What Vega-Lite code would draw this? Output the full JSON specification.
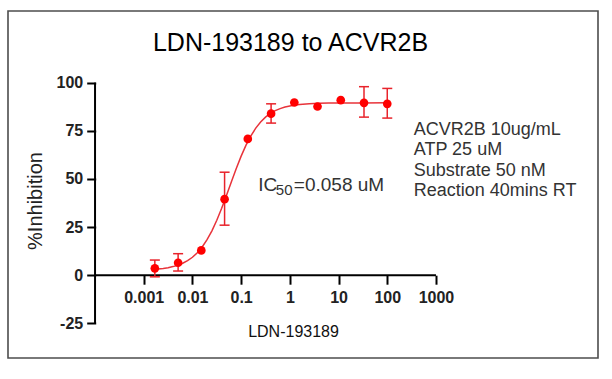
{
  "$schema": "https://vega.github.io/schema/vega-lite/v6.json",
  "width": 590,
  "height": 347,
  "autosize": {"type": "none"},
  "padding": {"left": 8, "top": 11, "right": 14, "bottom": 21},
  "background": "white",
  "config": {
    "view": {"stroke": "#4d4d4d", "strokeWidth": 1.6},
    "font": "Liberation Sans",
    "axis": {"grid": false}
  },
  "title": {
    "text": "LDN-193189 to ACVR2B",
    "font": "Liberation Sans",
    "fontSize": 25,
    "fontWeight": "normal",
    "color": "#000000",
    "anchor": "middle",
    "baseline": "alphabetic",
    "offset": 0,
    "dx": -12.5,
    "dy": 65
  },
  "datasets": {
    "axislines": [
      {"x": 0.0001, "x2": 0.0001, "y": -25, "y2": 100},
      {"x": 0.0001, "x2": 1000, "y": 0, "y2": 0}
    ],
    "points": [
      {"x": 0.00169, "y": 3.6},
      {"x": 0.00508, "y": 6.5},
      {"x": 0.0152, "y": 12.9},
      {"x": 0.0457, "y": 39.5},
      {"x": 0.137, "y": 70.8},
      {"x": 0.412, "y": 83.9},
      {"x": 1.235, "y": 89.7},
      {"x": 3.7, "y": 87.6},
      {"x": 11.1, "y": 90.9},
      {"x": 33.3, "y": 89.5},
      {"x": 100, "y": 89.0}
    ],
    "err": [
      {"x": 0.00169, "lo": -0.8, "hi": 7.9},
      {"x": 0.00508, "lo": 2.2, "hi": 11.2},
      {"x": 0.0457, "lo": 26, "hi": 53.5},
      {"x": 0.412, "lo": 79, "hi": 89},
      {"x": 33.3, "lo": 82.1, "hi": 97.9},
      {"x": 100, "lo": 81.6, "hi": 97}
    ],
    "curve": [
      {"x": 0.00169, "y": 3.1},
      {"x": 0.001995, "y": 3.27},
      {"x": 0.002512, "y": 3.56},
      {"x": 0.003162, "y": 3.96},
      {"x": 0.003981, "y": 4.5},
      {"x": 0.005012, "y": 5.23},
      {"x": 0.00631, "y": 6.23},
      {"x": 0.007943, "y": 7.56},
      {"x": 0.01, "y": 9.34},
      {"x": 0.01259, "y": 11.67},
      {"x": 0.01585, "y": 14.67},
      {"x": 0.01995, "y": 18.45},
      {"x": 0.02512, "y": 23.08},
      {"x": 0.03162, "y": 28.56},
      {"x": 0.03981, "y": 34.79},
      {"x": 0.05012, "y": 41.57},
      {"x": 0.0631, "y": 48.56},
      {"x": 0.07943, "y": 55.42},
      {"x": 0.1, "y": 61.83},
      {"x": 0.1259, "y": 67.53},
      {"x": 0.1585, "y": 72.39},
      {"x": 0.1995, "y": 76.39},
      {"x": 0.2512, "y": 79.59},
      {"x": 0.3162, "y": 82.09},
      {"x": 0.3981, "y": 84.0},
      {"x": 0.5012, "y": 85.45},
      {"x": 0.631, "y": 86.53},
      {"x": 0.7943, "y": 87.33},
      {"x": 1, "y": 87.91},
      {"x": 1.259, "y": 88.35},
      {"x": 1.585, "y": 88.66},
      {"x": 2.512, "y": 89.06},
      {"x": 3.981, "y": 89.27},
      {"x": 6.31, "y": 89.38},
      {"x": 10, "y": 89.44},
      {"x": 31.62, "y": 89.49},
      {"x": 100, "y": 89.5}
    ],
    "notes": [
      {"x": 350, "y": 72.9, "text": "ACVR2B 10ug/mL"},
      {"x": 350, "y": 62.2, "text": "ATP 25 uM"},
      {"x": 350, "y": 51.6, "text": "Substrate 50 nM"},
      {"x": 350, "y": 41.0, "text": "Reaction 40mins RT"}
    ],
    "ic50": [
      {"x": 0.2236, "y": 43.8, "text": "IC"},
      {"x": 1.208, "y": 43.8, "text": "=0.058 uM"}
    ],
    "ic50sub": [
      {"x": 0.5161, "y": 41.75, "text": "50"}
    ]
  },
  "layer": [
    {
      "data": {"name": "axislines"},
      "mark": {"type": "rule", "color": "#000000", "strokeWidth": 2},
      "encoding": {
        "x": {
          "field": "x",
          "type": "quantitative",
          "scale": {"type": "log", "domain": [0.000001633, 2123000], "nice": false},
          "axis": {
            "orient": "bottom",
            "offset": -82.8,
            "values": [0.001, 0.01, 0.1, 1, 10, 100, 1000],
            "labelExpr": "'' + datum.value",
            "domain": false,
            "tickSize": 9,
            "tickWidth": 2,
            "tickColor": "#000000",
            "labelFont": "Liberation Sans",
            "labelFontSize": 16,
            "labelFontWeight": "bold",
            "labelColor": "#222222",
            "labelPadding": 5,
            "title": "LDN-193189",
            "titleFont": "Liberation Sans",
            "titleFontSize": 16,
            "titleFontWeight": "normal",
            "titleColor": "#111111",
            "titleAlign": "center",
            "titleBaseline": "alphabetic",
            "titleX": 285,
            "titleY": 61
          }
        },
        "x2": {"field": "x2"},
        "y": {
          "field": "y",
          "type": "quantitative",
          "scale": {"domain": [-42.95, 137.19], "nice": false, "zero": false},
          "axis": {
            "orient": "left",
            "offset": -87.7,
            "values": [-25, 0, 25, 50, 75, 100],
            "labelExpr": "'' + datum.value",
            "domain": false,
            "tickSize": 9,
            "tickWidth": 2,
            "tickColor": "#000000",
            "labelFont": "Liberation Sans",
            "labelFontSize": 16,
            "labelFontWeight": "bold",
            "labelColor": "#222222",
            "labelPadding": 4,
            "title": "%Inhibition",
            "titleFont": "Liberation Sans",
            "titleFontSize": 20,
            "titleFontWeight": "normal",
            "titleColor": "#222222",
            "titleAngle": 270,
            "titleAlign": "center",
            "titleBaseline": "middle",
            "titleX": -60.4,
            "titleY": 189.5
          }
        },
        "y2": {"field": "y2"}
      }
    },
    {
      "data": {"name": "curve"},
      "mark": {"type": "line", "color": "#e8333a", "strokeWidth": 1.5},
      "encoding": {
        "x": {"field": "x", "type": "quantitative"},
        "y": {"field": "y", "type": "quantitative"}
      }
    },
    {
      "data": {"name": "err"},
      "mark": {"type": "rule", "color": "#e8232b", "strokeWidth": 1.5},
      "encoding": {
        "x": {"field": "x", "type": "quantitative"},
        "y": {"field": "lo", "type": "quantitative"},
        "y2": {"field": "hi"}
      }
    },
    {
      "data": {"name": "err"},
      "mark": {"type": "tick", "color": "#e8232b", "orient": "horizontal", "size": 10, "thickness": 1.5, "opacity": 1},
      "encoding": {
        "x": {"field": "x", "type": "quantitative"},
        "y": {"field": "lo", "type": "quantitative"}
      }
    },
    {
      "data": {"name": "err"},
      "mark": {"type": "tick", "color": "#e8232b", "orient": "horizontal", "size": 10, "thickness": 1.5, "opacity": 1},
      "encoding": {
        "x": {"field": "x", "type": "quantitative"},
        "y": {"field": "hi", "type": "quantitative"}
      }
    },
    {
      "data": {"name": "points"},
      "mark": {"type": "point", "filled": true, "color": "#ff0000", "size": 75, "opacity": 1},
      "encoding": {
        "x": {"field": "x", "type": "quantitative"},
        "y": {"field": "y", "type": "quantitative"}
      }
    },
    {
      "data": {"name": "notes"},
      "mark": {"type": "text", "align": "left", "baseline": "alphabetic", "font": "Liberation Sans", "fontSize": 18, "color": "#333333"},
      "encoding": {
        "x": {"field": "x", "type": "quantitative"},
        "y": {"field": "y", "type": "quantitative"},
        "text": {"field": "text"}
      }
    },
    {
      "data": {"name": "ic50"},
      "mark": {"type": "text", "align": "left", "baseline": "alphabetic", "font": "Liberation Sans", "fontSize": 19, "color": "#333333"},
      "encoding": {
        "x": {"field": "x", "type": "quantitative"},
        "y": {"field": "y", "type": "quantitative"},
        "text": {"field": "text"}
      }
    },
    {
      "data": {"name": "ic50sub"},
      "mark": {"type": "text", "align": "left", "baseline": "alphabetic", "font": "Liberation Sans", "fontSize": 15, "color": "#333333"},
      "encoding": {
        "x": {"field": "x", "type": "quantitative"},
        "y": {"field": "y", "type": "quantitative"},
        "text": {"field": "text"}
      }
    }
  ]
}
